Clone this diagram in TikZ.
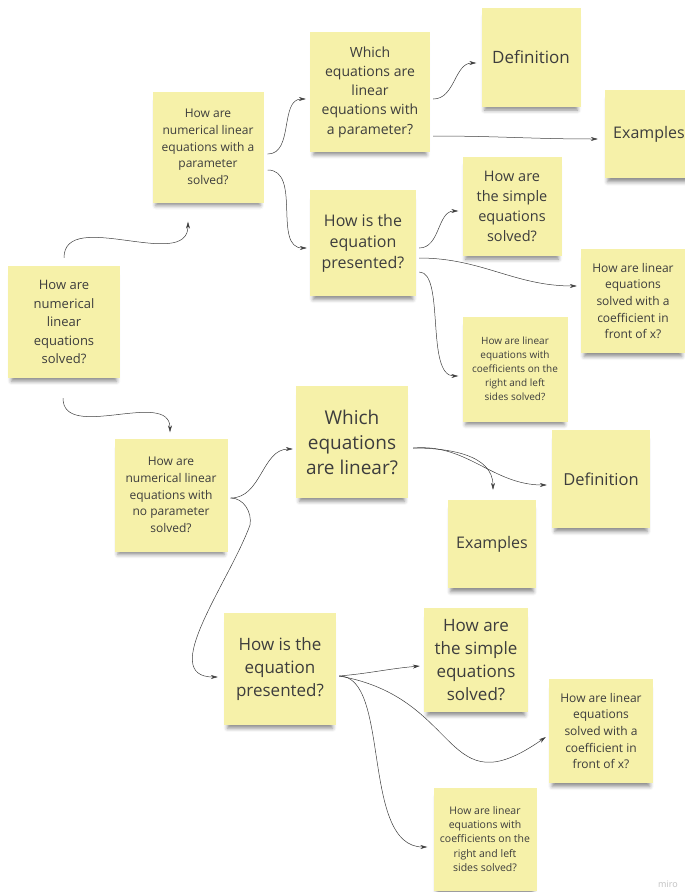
\documentclass[tikz,border=0pt]{standalone}
\usepackage{fontspec}
\setmainfont{Open Sans}
\usepackage{xcolor}
\usetikzlibrary{arrows.meta,shadows.blur}
\definecolor{stickyyellow}{HTML}{F6F1A9}
\definecolor{inkgray}{HTML}{3D3D3D}
\newcommand{\fsz}[2]{\fontsize{#1}{#2}\selectfont}

\begin{document}
\begin{tikzpicture}[
  x = 1pt, y = -1pt,
  note/.style = {minimum width = #1, minimum height = #1, inner sep = 0pt,
    align = center, fill = stickyyellow, text = inkgray,
    blur shadow = {shadow xshift = 0pt, shadow yshift = -7pt, shadow scale = 0.94,
      shadow blur radius = 4pt, shadow opacity = 45}},
  link/.style = {-{Stealth[length = 7pt, width = 4pt]}, draw = inkgray, line width = 0.5pt}
  ]
  \useasboundingbox (0,0) rectangle (685,892);
  \node[note = 112, font = \fsz{13}{18.5}] (root) at (64,322)
    {How are\\numerical\\linear\\equations\\solved?};
  % with a parameter
  \node[note = 111, font = \fsz{12}{16.7}] (par) at (208,147)
    {How are\\numerical linear\\equations with a\\parameter\\solved?};
  \node[note = 120, font = \fsz{14}{19.3}] (parwhich) at (370,92)
    {Which\\equations are\\linear\\equations with\\a parameter?};
  \node[note = 99, font = \fsz{17}{22}] (pardef) at (531,57) {Definition};
  \node[note = 88, font = \fsz{16}{22}] (parex) at (649,134) {Examples};
  \node[note = 106, font = \fsz{16}{21}] (parhow) at (363,243)
    {How is the\\equation\\presented?};
  \node[note = 99, font = \fsz{14.5}{20}] (parsimple) at (512,206)
    {How are\\the simple\\equations\\solved?};
  \node[note = 104, font = \fsz{12}{16.7}] (parcoef) at (633,301)
    {How are linear\\equations\\solved with a\\coefficient in\\front of x?};
  \node[note = 105, font = \fsz{10}{14}] (parboth) at (515,369)
    {How are linear\\equations with\\coefficients on the\\right and left\\sides solved?};
  % with no parameter
  \node[note = 113, font = \fsz{12}{16.7}] (nopar) at (171,495)
    {How are\\numerical linear\\equations with\\no parameter\\solved?};
  \node[note = 112, font = \fsz{19}{25}] (npwhich) at (352,442)
    {Which\\equations\\are linear?};
  \node[note = 98, font = \fsz{16.5}{22}] (npdef) at (601,479) {Definition};
  \node[note = 88, font = \fsz{16}{22}] (npex) at (492,544) {Examples};
  \node[note = 112, font = \fsz{17}{23.3}] (nphow) at (280,669)
    {How is the\\equation\\presented?};
  \node[note = 104, font = \fsz{17}{22.7}] (npsimple) at (476,660)
    {How are\\the simple\\equations\\solved?};
  \node[note = 104, font = \fsz{12}{16.7}] (npcoef) at (601,731)
    {How are linear\\equations\\solved with a\\coefficient in\\front of x?};
  \node[note = 103, font = \fsz{10.5}{14.3}] (npboth) at (485,839)
    {How are linear\\equations with\\coefficients on the\\right and left\\sides solved?};
  \node[text = black!25, font = \fsz{9}{10}] (miro) at (668,884) {miro};

  \draw[link] ([yshift = 8pt]root.north) to[out = 90, in = -90]
    ([xshift = -20pt, yshift = -19pt]par.south);
  \draw[link] ([xshift = 4pt, yshift = -7pt]par.east) to[out = 0, in = 180]
    ([xshift = -4pt, yshift = -7pt]parwhich.west);
  \draw[link] ([xshift = 4pt, yshift = -23pt]par.east) to[out = 0, in = 180]
    ([xshift = -3pt, yshift = -5pt]parhow.west);
  \draw[link] ([xshift = 3pt, yshift = -7pt]parwhich.east) to[out = 0, in = 180]
    ([xshift = -5pt, yshift = -6pt]pardef.west);
  \draw[link] ([xshift = 3pt, yshift = -44pt]parwhich.east) to[out = 0, in = 180]
    ([xshift = -7pt, yshift = -5pt]parex.west);
  \draw[link] ([xshift = 3pt, yshift = -5pt]parhow.east) to[out = 0, in = 180]
    ([xshift = -4pt, yshift = -5pt]parsimple.west);
  \draw[link] ([xshift = 3pt, yshift = -15pt]parhow.east) to[out = 0, in = 180]
    ([xshift = -4pt, yshift = 15pt]parcoef.west);
  \draw[link] ([xshift = 3pt, yshift = -29pt]parhow.east)
    .. controls +(26,0) and +(-33,0) .. ([xshift = -4pt, yshift = -7pt]parboth.west);

  \draw[link] ([xshift = -1pt, yshift = -20pt]root.south) to[out = -90, in = 90]
    ([xshift = -1pt, yshift = 6pt]nopar.north);
  \draw[link] ([xshift = 3pt, yshift = -3pt]nopar.east) to[out = 0, in = 180]
    ([xshift = -3pt, yshift = -7pt]npwhich.west);
  \draw[link] ([xshift = 3pt, yshift = -3pt]nopar.east) to[out = 0, in = 80]
    (250,525) to[out = -110, in = 180] ([xshift = -6pt, yshift = -8pt]nphow.west);
  \draw[link] ([xshift = 5pt, yshift = -6pt]npwhich.east) to[out = 5, in = 180]
    ([xshift = -5pt, yshift = -6pt]npdef.west);
  \draw[link] ([xshift = 5pt, yshift = -6pt]npwhich.east) to[out = 0, in = 90]
    ([xshift = 1pt, yshift = 10pt]npex.north);
  \draw[link] ([xshift = 3pt, yshift = -7pt]nphow.east) to[out = 5, in = 185]
    ([xshift = -4pt, yshift = -6pt]npsimple.west);
  \draw[link] ([xshift = 3pt, yshift = -7pt]nphow.east) to[out = -10, in = 215, looseness = 1.5]
    ([xshift = -3pt, yshift = -6pt]npcoef.west);
  \draw[link] ([xshift = 3pt, yshift = -7pt]nphow.east)
    .. controls +(52,0) and +(-67,0) .. ([xshift = -6pt, yshift = -8pt]npboth.west);
\end{tikzpicture}
\end{document}
